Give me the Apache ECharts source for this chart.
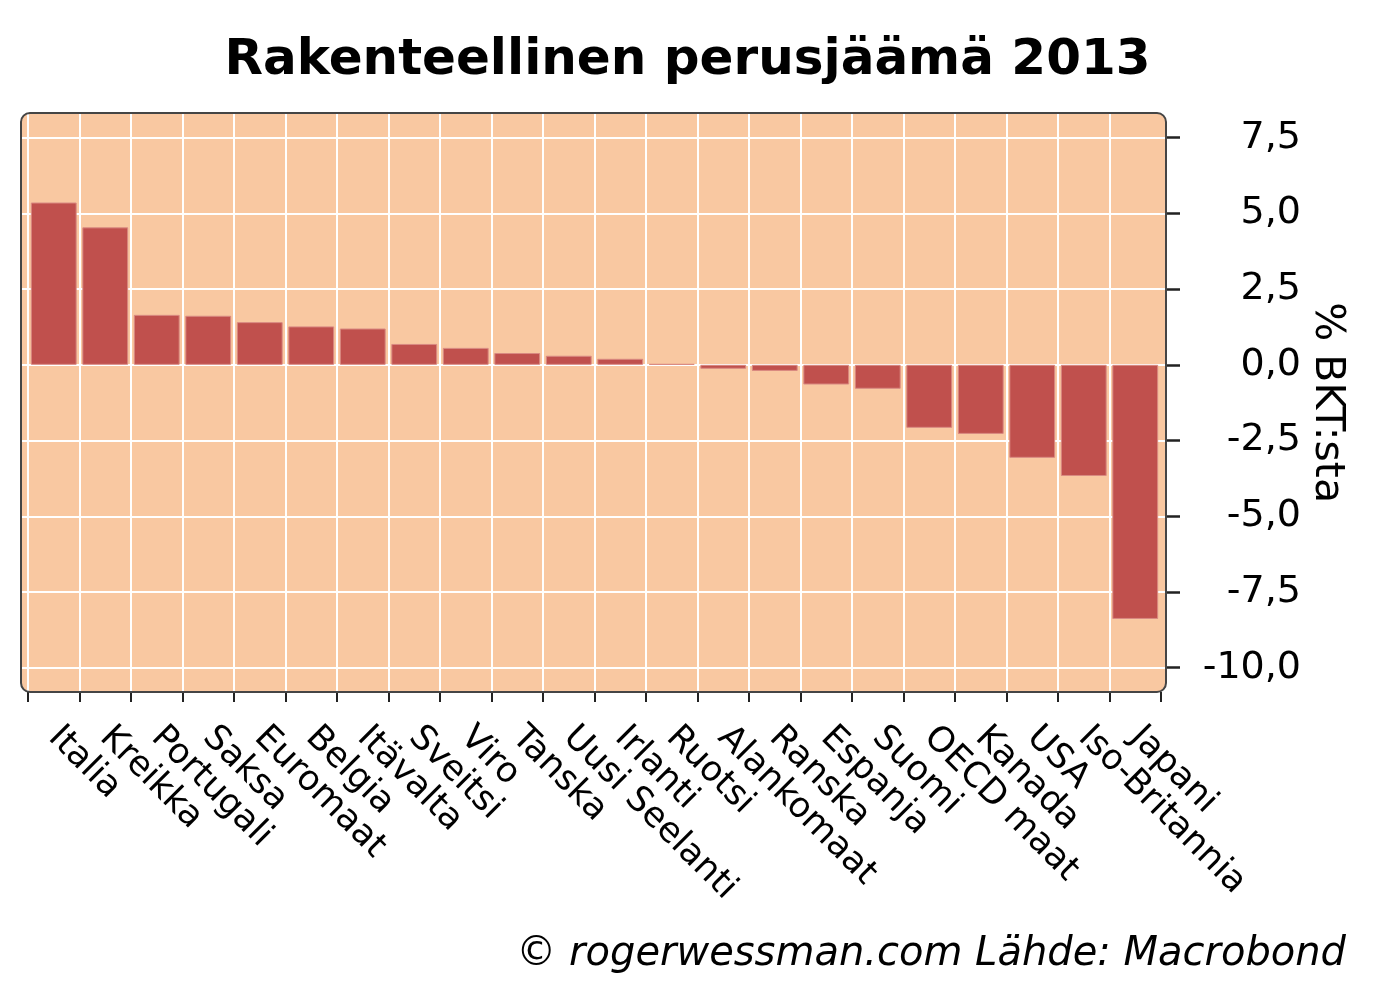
<!DOCTYPE html>
<html>
<head>
<meta charset="utf-8">
<script src="https://cdn.jsdelivr.net/npm/echarts@6/dist/echarts.min.js"></script>
<style>html,body{margin:0;padding:0;background:#fff}#c{width:1375px;height:1000px}</style>
</head>
<body>
<div id="c"></div>
<script>
const categories = ['Italia','Kreikka','Portugali','Saksa','Euromaat','Belgia','Itävalta','Sveitsi','Viro','Tanska','Uusi Seelanti','Irlanti','Ruotsi','Alankomaat','Ranska','Espanja','Suomi','OECD maat','Kanada','USA','Iso-Britannia','Japani'];
const values = [5.36,4.54,1.65,1.62,1.41,1.27,1.20,0.69,0.56,0.39,0.30,0.20,0.03,-0.13,-0.20,-0.65,-0.79,-2.08,-2.28,-3.07,-3.67,-8.39];
const yTickMin = -10, yTickMax = 7.5, yTickStep = 2.5;
const titleText = 'Rakenteellinen perusjäämä 2013';
const yName = '% BKT:sta';
const footer = '© rogerwessman.com Lähde: Macrobond';

const FONT = 'DejaVu Sans';
const chart = echarts.init(document.getElementById('c'), null, {renderer: 'canvas'});
const fmt = v => v.toFixed(1).replace('.', ',');

chart.setOption({
  animation: false,
  backgroundColor: '#ffffff',
  title: [
    {text: titleText, left: 'center', top: 31,
     textStyle: {fontFamily: FONT, fontWeight: 'bold', fontSize: 50, color: '#000'}},
    {text: footer, right: 24, top: 930,
     textStyle: {fontFamily: FONT, fontStyle: 'italic', fontWeight: 'normal', fontSize: 40, color: '#000'}}
  ],
  graphic: [
    {type: 'rect', z: -10, shape: {x: 21, y: 113, width: 1145, height: 579, r: 9},
     style: {fill: '#F9C8A1', stroke: null}},
    {type: 'rect', z: 100, shape: {x: 21, y: 113, width: 1145, height: 579, r: 9},
     style: {fill: null, stroke: '#454545', lineWidth: 2}}
  ],
  grid: [
    {left: 21, right: 1375 - 1166, top: 137.7, bottom: 1000 - 667.7, containLabel: false},
    {left: 28, right: 1375 - 1161, top: 113, bottom: 1000 - 692, containLabel: false}
  ],
  xAxis: [
    {gridIndex: 0, type: 'value', show: false, min: 0, max: 1},
    {gridIndex: 1, type: 'category', data: categories, boundaryGap: true,
     axisLine: {show: false, onZero: false},
     axisTick: {show: true, length: 10, lineStyle: {color: '#222', width: 2}},
     splitLine: {show: true, showMaxLine: false, lineStyle: {color: '#ffffff', width: 2}},
     axisLabel: {rotate: -45, interval: 0, margin: 40, verticalAlign: 'middle',
       fontFamily: FONT, fontSize: 35, color: '#000'}}
  ],
  yAxis: [
    {gridIndex: 0, type: 'value', position: 'right', min: yTickMin, max: yTickMax, interval: yTickStep,
     axisLine: {show: false, onZero: false},
     axisTick: {show: true, inside: false, length: 14, lineStyle: {color: '#222', width: 2.5}},
     splitLine: {show: true, lineStyle: {color: '#ffffff', width: 2}},
     axisLabel: {show: true, align: 'right', margin: 135, formatter: fmt,
       fontFamily: FONT, fontSize: 38, color: '#000'},
     name: yName, nameLocation: 'middle', nameRotate: -90, nameGap: 140, nameMoveOverlap: false,
     nameTextStyle: {fontFamily: FONT, fontSize: 41, color: '#000'}},
    {gridIndex: 1, type: 'value', show: false,
     axisLine: {onZero: false},
     min: yTickMin - (692 - 667.7) / ((667.7 - 137.7) / (yTickMax - yTickMin)),
     max: yTickMax + (137.7 - 113) / ((667.7 - 137.7) / (yTickMax - yTickMin)),
     splitLine: {show: false}}
  ],
  series: [{
    type: 'bar', xAxisIndex: 1, yAxisIndex: 1, data: values,
    barCategoryGap: '11%',
    itemStyle: {color: '#C0504D', borderColor: '#D98A82', borderWidth: 1}
  }]
});
</script>
</body>
</html>
